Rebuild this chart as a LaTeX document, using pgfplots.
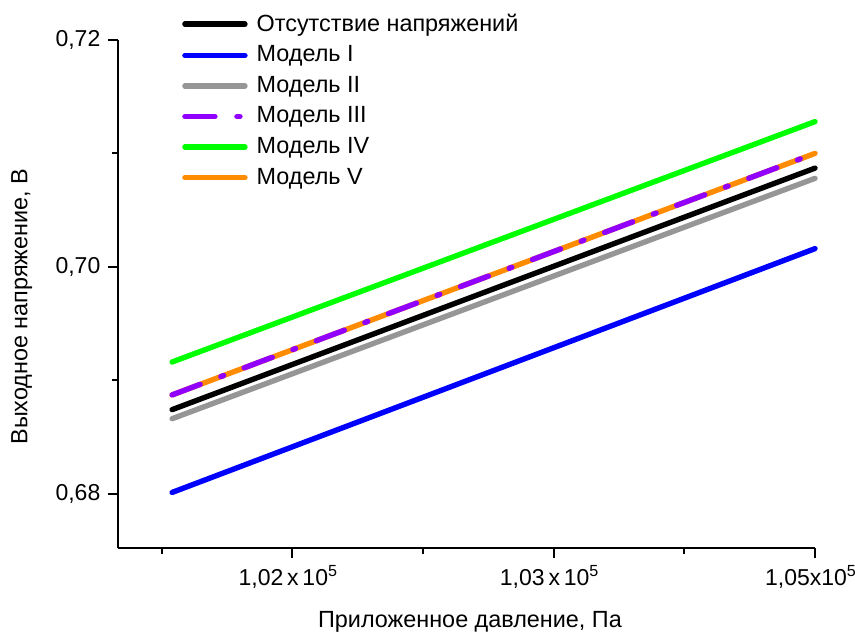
\documentclass[border=0pt,11pt]{standalone}
\usepackage{fontspec}
\setmainfont{Liberation Sans}
\usepackage{pgfplots}
\pgfplotsset{compat=1.18}

\definecolor{cgray}{RGB}{150,150,150}
\definecolor{cpurple}{RGB}{145,0,255}
\definecolor{cgreen}{RGB}{0,255,0}
\definecolor{corange}{RGB}{255,140,0}

\begin{document}
\begin{tikzpicture}
\path[use as bounding box] (-59pt,-44.5pt) rectangle (368.5pt,274pt);
\begin{axis}[
    at={(0,0)}, anchor=south west,
    scale only axis,
    width=348.5pt, height=254pt,
    xmin=101333, xmax=104000,
    ymin=0.6752, ymax=0.72,
    axis lines*=left,
    axis line style={line width=1pt},
    tick align=outside,
    tick style={line width=1pt, black},
    major tick length=5pt,
    minor tick length=3pt,
    xtick={102000,103000,104000},
    xticklabels={{1,02\,x\,10\textsuperscript{5}},{1,03\,x\,10\textsuperscript{5}},{1,05x10\textsuperscript{5}}},
    minor xtick={101500,102500,103500},
    ytick={0.68,0.70,0.72},
    yticklabels={{0,68},{0,70},{0,72}},
    minor ytick={0.69,0.71},
    scaled x ticks=false,
    ticklabel style={font=\fontsize{11.5}{13}\selectfont},
    xticklabel style={xshift=-2pt},
    xlabel={Приложенное давление, Па},
    ylabel={Выходное напряжение, В},
    xlabel style={at={(axis description cs:0.505,-0.146)}, anchor=center, font=\fontsize{11.7}{13}\selectfont},
    ylabel style={at={(axis description cs:-0.138,0.475)}, anchor=center, rotate=0, font=\fontsize{11.7}{13}\selectfont},
    clip=false,
    legend cell align=left,
    legend image code/.code={\draw[#1, line cap=round] (0pt,0pt) -- (30pt,0pt); \path (32.5pt,0pt);},
    legend style={at={(rel axis cs:0.083,1.068)}, anchor=north west, draw=none, fill=none,
        font=\fontsize{11.7}{13}\selectfont, row sep=1.6pt},
    every axis plot/.append style={line width=2.7pt, line cap=round},
]
% orange under the dash-dot purple line
\addplot[corange, forget plot] coordinates {(101540,0.6887) (104000,0.7100)};

\addplot[black] coordinates {(101540,0.6874) (104000,0.7087)};
\addlegendentry{Отсутствие напряжений}
\addplot[blue] coordinates {(101540,0.6801) (104000,0.7016)};
\addlegendentry{Модель I}
\addplot[cgray] coordinates {(101540,0.6866) (104000,0.7078)};
\addlegendentry{Модель II}
\addplot[cpurple, dash pattern=on 15pt off 11pt on 1.5pt off 11pt] coordinates {(101540,0.6887) (104000,0.7100)};
\addlegendentry{Модель III}
\addplot[cgreen] coordinates {(101540,0.6916) (104000,0.7128)};
\addlegendentry{Модель IV}
\addlegendimage{corange, line width=2.7pt}
\addlegendentry{Модель V}
\end{axis}
\end{tikzpicture}
\end{document}
